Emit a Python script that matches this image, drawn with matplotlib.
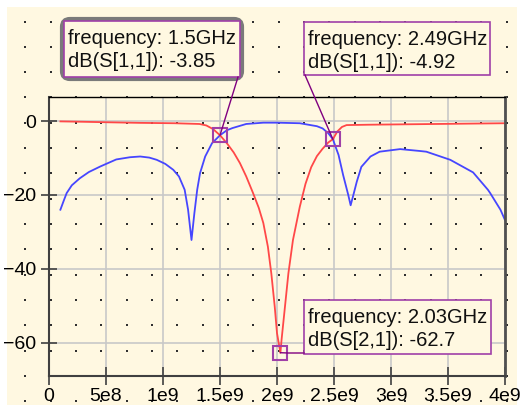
import numpy as np
import matplotlib
matplotlib.use("Agg")
import matplotlib.pyplot as plt
from matplotlib.patches import Rectangle, FancyBboxPatch

plt.rcParams["font.family"] = ["Liberation Sans", "DejaVu Sans"]

# S11 (blue), frequency in GHz, value in dB
s11_ghz = [0.10, 0.13, 0.155, 0.20, 0.27, 0.35, 0.45, 0.59, 0.71, 0.80, 0.88, 0.945,
           1.02, 1.09, 1.14, 1.19, 1.22, 1.25, 1.275, 1.30, 1.325, 1.37, 1.43, 1.50,
           1.56, 1.61, 1.73, 1.88, 2.00, 2.20, 2.35, 2.40, 2.45, 2.49, 2.54, 2.58,
           2.625, 2.646, 2.67, 2.70, 2.74, 2.82, 2.90, 3.08, 3.25, 3.31, 3.52, 3.72,
           3.85, 3.87, 3.96, 4.00]
s11_db = [-24.0, -21.5, -19.5, -17.4, -15.5, -13.8, -12.3, -10.4, -9.8, -9.6, -9.9, -10.5,
          -11.6, -13.2, -15.0, -18.6, -24.0, -32.2, -25.0, -18.6, -14.1, -9.6, -6.0, -3.85,
          -2.5, -1.9, -0.8, -0.45, -0.45, -0.6, -1.4, -2.0, -3.3, -4.92, -9.2, -14.6,
          -20.0, -22.8, -20.0, -16.4, -12.4, -9.6, -8.3, -7.6, -8.1, -8.3, -10.5, -13.9,
          -18.6, -19.5, -24.0, -26.8]

# S21 (red)
s21_ghz = [0.10, 0.29, 0.53, 0.80, 1.10, 1.32, 1.38, 1.44, 1.50, 1.56, 1.62, 1.675,
           1.73, 1.79, 1.84, 1.88, 1.92, 1.95, 1.98, 2.00, 2.03, 2.04, 2.07, 2.10,
           2.14, 2.20, 2.25, 2.30, 2.35, 2.40, 2.45, 2.49, 2.53, 2.57, 2.61, 2.80,
           3.10, 3.40, 3.70, 4.00]
s21_db = [-0.1, -0.2, -0.35, -0.5, -0.6, -0.8, -1.2, -2.2, -3.85, -6.0, -8.5, -11.4,
          -15.0, -19.5, -23.5, -27.6, -34.0, -41.2, -50.2, -57.4, -62.7, -59.2, -50.2, -41.2,
          -32.2, -23.2, -17.0, -12.5, -9.5, -7.5, -5.8, -4.92, -2.8, -1.6, -1.1, -1.0,
          -0.9, -0.8, -0.7, -0.6]

# markers: (frequency GHz, value, trace name)
mk_freq = [1.5, 2.49, 2.03]
mk_val = [-3.85, -4.92, -62.7]
mk_trace = ["S[1,1]", "S[1,1]", "S[2,1]"]

xticks = [0, 5e8, 1e9, 1.5e9, 2e9, 2.5e9, 3e9, 3.5e9, 4e9]
xticklabels = ["0", "5e8", "1e9", "1.5e9", "2e9", "2.5e9", "3e9", "3.5e9", "4e9"]
yticks = [0, -20, -40, -60]

W, H = 523, 407
cream = "#fff8e1"
purple = "#a040a8"

fig = plt.figure(figsize=(W / 100, H / 100), dpi=100)

# background: cream panel with a dotted grid
bg = fig.add_axes([0, 0, 1, 1], zorder=0)
bg.set_xlim(0, W)
bg.set_ylim(H, 0)
bg.axis("off")
bg.add_patch(Rectangle((7, 7), 510, 398, facecolor=cream, edgecolor="none"))
dx, dy = np.meshgrid(np.arange(1, 21) * 25.33, 21.5 + np.arange(0, 16) * 25.33)
bg.scatter(dx.ravel(), dy.ravel(), s=0.55, color="#303030", marker="s",
           linewidths=0, antialiased=False)

ax = fig.add_axes([49 / W, 1 - 376 / H, 456 / W, 279 / H], zorder=1)
ax.set_facecolor("none")
ax.plot(np.array(s11_ghz) * 1e9, s11_db, color="#4646ff", lw=1.3)
ax.plot(np.array(s21_ghz) * 1e9, s21_db, color="#ff4848", lw=1.3)
ax.plot(np.array(mk_freq) * 1e9, mk_val, "s", ms=10.5, mfc="none", mec=purple, mew=1.5)

ax.set_xlim(0, 4e9)
ax.set_ylim(-69, 6.5)
ax.set_xticks(xticks)
ax.set_xticklabels(xticklabels)
ax.set_yticks(yticks)
ax.grid(True, color="#c8c8c8", lw=1.2)
ax.set_axisbelow(True)
ax.tick_params(axis="x", direction="inout", length=13, width=1.2, color="#404040",
               labelsize=14, pad=2)
ax.tick_params(axis="y", direction="inout", length=12, width=1.2, color="#404040",
               labelsize=14, pad=3)
for side in ["left", "bottom"]:
    ax.spines[side].set_color("#404040")
    ax.spines[side].set_linewidth(1.5)
ax.spines["top"].set_color("black")
ax.spines["top"].set_linewidth(1.0)
ax.spines["right"].set_color("#505050")
ax.spines["right"].set_linewidth(2.0)

# overlay for marker boxes and leader lines (pixel coordinates, y down)
ov = fig.add_axes([0, 0, 1, 1], zorder=2)
ov.set_xlim(0, W)
ov.set_ylim(H, 0)
ov.axis("off")
ov.patch.set_alpha(0)


def to_px(f, v):
    xd, yd = ax.transData.transform((f, v))
    return xd, H - yd


# box layout: (left, top, right, bottom, leader anchor x, anchor y)
boxes = [(64, 21, 240, 77, 238, 77),
         (304, 22, 490, 75, 305, 75),
         (304, 300, 491, 354, 304, 353)]

for i, (l, t, r, b, axx, axy) in enumerate(boxes):
    mx, my = to_px(mk_freq[i] * 1e9, mk_val[i])
    if i == 2:
        ov.plot([mx, mx + 8, axx], [my, axy, axy], color="#800080", lw=1.0)
    else:
        ov.plot([axx, mx], [axy, my], color="#800080", lw=1.0)
    if i == 0:
        ov.add_patch(FancyBboxPatch((l - 2, t - 2), r - l + 4, b - t + 4,
                                    boxstyle="round,pad=0,rounding_size=8",
                                    facecolor=cream, edgecolor="#7a7a7a", lw=3))
    ov.add_patch(Rectangle((l, t), r - l, b - t, facecolor=cream, edgecolor=purple, lw=1.2))
    ov.text(l + 4, t + 23, f"frequency: {mk_freq[i]:g}GHz", fontsize=14.5,
            va="baseline", ha="left", color="#101010")
    ov.text(l + 4, t + 46, f"dB({mk_trace[i]}): {mk_val[i]:g}", fontsize=14.5,
            va="baseline", ha="left", color="#101010")

fig.savefig("out.png", dpi=100)
